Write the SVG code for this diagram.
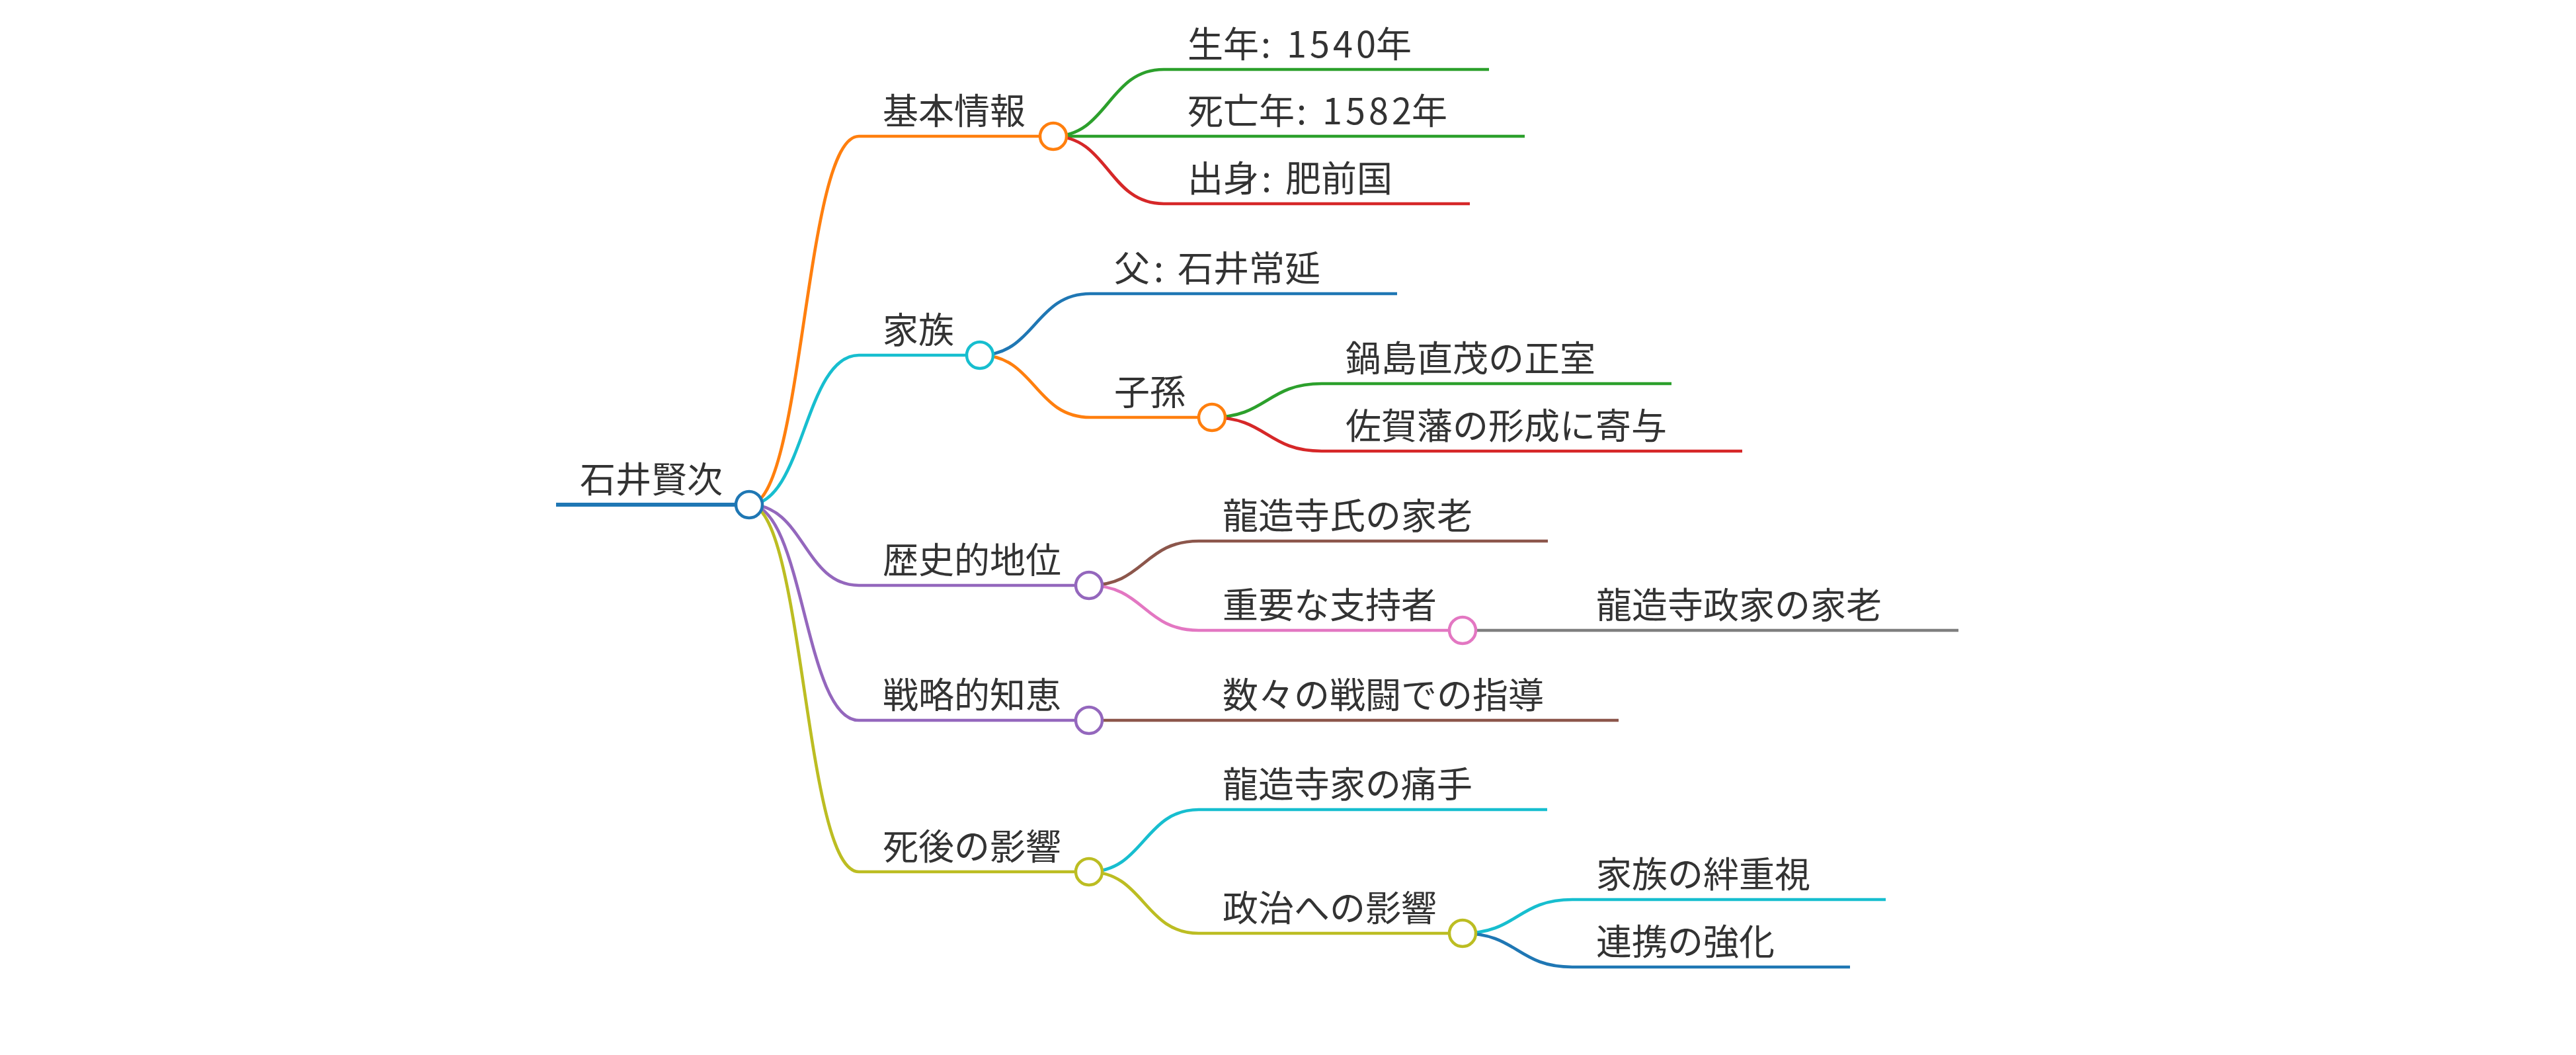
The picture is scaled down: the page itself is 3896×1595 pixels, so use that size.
<svg xmlns="http://www.w3.org/2000/svg" width="3896" height="1595" viewBox="0 0 3896 1595">
<style>
text{font-family:"Noto Sans CJK JP","Noto Sans CJK SC",sans-serif;font-size:54px;fill:#333}
.l{fill:none;stroke-width:4.7}
.c{fill:#fff;stroke-width:4.5}
</style>
<rect width="3896" height="1595" fill="#fff"/>
<g id="connectors">
<path class="l" stroke="#ff7f0e" d="M1133,763 C1216,763 1216,206 1299,206"/>
<path class="l" stroke="#17becf" d="M1133,763 C1216,763 1216,537 1299,537"/>
<path class="l" stroke="#9467bd" d="M1133,763 C1216,763 1216,885 1299,885"/>
<path class="l" stroke="#9467bd" d="M1133,763 C1216,763 1216,1089 1299,1089"/>
<path class="l" stroke="#bcbd22" d="M1133,763 C1216,763 1216,1318 1299,1318"/>
<path class="l" stroke="#2ca02c" d="M1593,206 C1676,206 1676,105 1760,105"/>
<path class="l" stroke="#2ca02c" d="M1593,206 L1760,206"/>
<path class="l" stroke="#d62728" d="M1593,206 C1676,206 1676,308 1760,308"/>
<path class="l" stroke="#1f77b4" d="M1482,537 C1565,537 1565,444 1649,444"/>
<path class="l" stroke="#ff7f0e" d="M1482,537 C1565,537 1565,631 1649,631"/>
<path class="l" stroke="#2ca02c" d="M1833,631 C1916,631 1916,580 1999,580"/>
<path class="l" stroke="#d62728" d="M1833,631 C1916,631 1916,682 1999,682"/>
<path class="l" stroke="#8c564b" d="M1647,885 C1730,885 1730,818 1813,818"/>
<path class="l" stroke="#e377c2" d="M1647,885 C1730,885 1730,953 1813,953"/>
<path class="l" stroke="#7f7f7f" d="M2212,953 L2378,953"/>
<path class="l" stroke="#8c564b" d="M1647,1089 L1813,1089"/>
<path class="l" stroke="#17becf" d="M1647,1318 C1730,1318 1730,1224 1813,1224"/>
<path class="l" stroke="#bcbd22" d="M1647,1318 C1730,1318 1730,1411 1813,1411"/>
<path class="l" stroke="#17becf" d="M2212,1411 C2295,1411 2295,1360 2378,1360"/>
<path class="l" stroke="#1f77b4" d="M2212,1411 C2295,1411 2295,1462 2378,1462"/>
</g>
<g id="root">
<path fill="none" stroke="#1f77b4" stroke-width="6" d="M841,763 H1133"/>
<circle class="c" stroke="#1f77b4" cx="1133" cy="763" r="20"/>
<text x="877" y="745">石井賢次</text>
</g>
<g id="n-kihon">
<path class="l" stroke="#ff7f0e" d="M1299,206 H1593"/>
<circle class="c" stroke="#ff7f0e" cx="1593" cy="206" r="20"/>
<text x="1335" y="188">基本情報</text>
</g>
<g id="n-seinen">
<path class="l" stroke="#2ca02c" d="M1760,105 H2252"/>
<text x="1796" y="87">生年<tspan x="1907">:</tspan><tspan x="1946" letter-spacing="5">1540</tspan><tspan x="2081">年</tspan></text>
</g>
<g id="n-shibou">
<path class="l" stroke="#2ca02c" d="M1760,206 H2306"/>
<text x="1796" y="188">死亡年<tspan x="1961">:</tspan><tspan x="2000" letter-spacing="5">1582</tspan><tspan x="2135">年</tspan></text>
</g>
<g id="n-shusshin">
<path class="l" stroke="#d62728" d="M1760,308 H2223"/>
<text x="1796" y="290">出身<tspan x="1908">:</tspan><tspan x="1944">肥前国</tspan></text>
</g>
<g id="n-kazoku">
<path class="l" stroke="#17becf" d="M1299,537 H1482"/>
<circle class="c" stroke="#17becf" cx="1482" cy="537" r="20"/>
<text x="1335" y="519">家族</text>
</g>
<g id="n-chichi">
<path class="l" stroke="#1f77b4" d="M1649,444 H2113"/>
<text x="1685" y="426">父<tspan x="1745">:</tspan><tspan x="1781">石井常延</tspan></text>
</g>
<g id="n-shison">
<path class="l" stroke="#ff7f0e" d="M1649,631 H1833"/>
<circle class="c" stroke="#ff7f0e" cx="1833" cy="631" r="20"/>
<text x="1685" y="613">子孫</text>
</g>
<g id="n-nabeshima">
<path class="l" stroke="#2ca02c" d="M1999,580 H2528"/>
<text x="2035" y="562">鍋島直茂の正室</text>
</g>
<g id="n-saga">
<path class="l" stroke="#d62728" d="M1999,682 H2635"/>
<text x="2035" y="664">佐賀藩の形成に寄与</text>
</g>
<g id="n-rekishi">
<path class="l" stroke="#9467bd" d="M1299,885 H1647"/>
<circle class="c" stroke="#9467bd" cx="1647" cy="885" r="20"/>
<text x="1335" y="867">歴史的地位</text>
</g>
<g id="n-karou">
<path class="l" stroke="#8c564b" d="M1813,818 H2341"/>
<text x="1849" y="800">龍造寺氏の家老</text>
</g>
<g id="n-shiji">
<path class="l" stroke="#e377c2" d="M1813,953 H2212"/>
<circle class="c" stroke="#e377c2" cx="2212" cy="953" r="20"/>
<text x="1849" y="935">重要な支持者</text>
</g>
<g id="n-masaie">
<path class="l" stroke="#7f7f7f" d="M2378,953 H2962"/>
<text x="2414" y="935">龍造寺政家の家老</text>
</g>
<g id="n-senryaku">
<path class="l" stroke="#9467bd" d="M1299,1089 H1647"/>
<circle class="c" stroke="#9467bd" cx="1647" cy="1089" r="20"/>
<text x="1335" y="1071">戦略的知恵</text>
</g>
<g id="n-shidou">
<path class="l" stroke="#8c564b" d="M1813,1089 H2448"/>
<text x="1849" y="1071">数々の戦闘での指導</text>
</g>
<g id="n-shigo">
<path class="l" stroke="#bcbd22" d="M1299,1318 H1647"/>
<circle class="c" stroke="#bcbd22" cx="1647" cy="1318" r="20"/>
<text x="1335" y="1300">死後の影響</text>
</g>
<g id="n-itade">
<path class="l" stroke="#17becf" d="M1813,1224 H2340"/>
<text x="1849" y="1206">龍造寺家の痛手</text>
</g>
<g id="n-seiji">
<path class="l" stroke="#bcbd22" d="M1813,1411 H2212"/>
<circle class="c" stroke="#bcbd22" cx="2212" cy="1411" r="20"/>
<text x="1849" y="1393">政治への影響</text>
</g>
<g id="n-kizuna">
<path class="l" stroke="#17becf" d="M2378,1360 H2852"/>
<text x="2414" y="1342">家族の絆重視</text>
</g>
<g id="n-renkei">
<path class="l" stroke="#1f77b4" d="M2378,1462 H2798"/>
<text x="2414" y="1444">連携の強化</text>
</g>
</svg>
